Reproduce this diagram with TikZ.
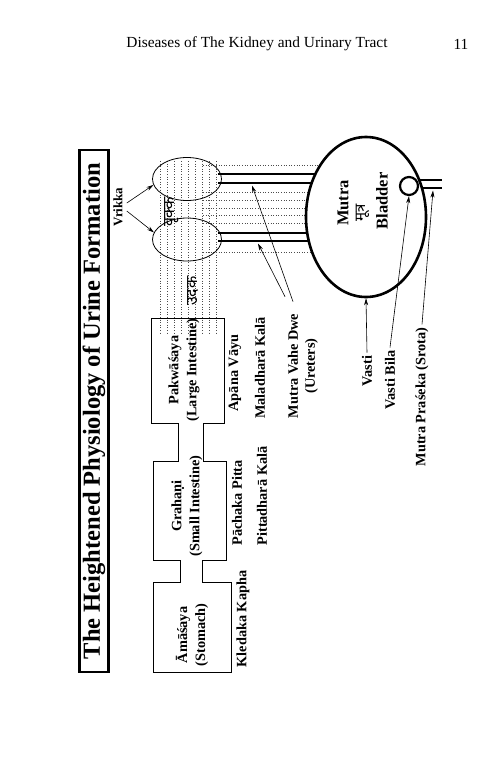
\documentclass[tikz,border=0pt]{standalone}
\usepackage{fontspec}
\setmainfont{Liberation Serif}
\newfontfamily\deva[Script=Devanagari]{Noto Sans}
\usetikzlibrary{arrows.meta,shapes.geometric,calc}
\begin{document}
\begin{tikzpicture}[x=1pt,y=-1pt,
  lab/.style={rotate=90,font=\fontsize{14.3}{17}\selectfont\bfseries,inner sep=0pt,align=center},
  inlab/.style={rotate=90,font=\fontsize{14.3}{18}\selectfont\bfseries,inner sep=0pt,align=center},
  devlab/.style={rotate=90,font=\deva\fontsize{16}{17}\selectfont\bfseries,inner sep=0pt},
  arr/.style={-{Stealth[length=7pt,width=4pt]},line width=0.6pt},
  organ/.style={draw,line width=1pt},
  tube/.style={line width=2.6pt},
  dots/.style={dotted,line width=0.6pt,black!70},
  kidney/.style={ellipse,draw,line width=0.8pt,minimum width=69pt,minimum height=43pt,inner sep=0pt},
]
\useasboundingbox (0,0) rectangle (500,772);
\fill[white] (0,0) rectangle (500,772);

% header
\node[font=\fontsize{15.4}{18}\selectfont,inner sep=0pt] (hdr) at (257,44) {Diseases of The Kidney and Urinary Tract};
\node[font=\fontsize{15.4}{18}\selectfont,inner sep=0pt] (pg) at (461,44) {11};

% title box
\node[draw,line width=2.2pt,rotate=90,minimum width=522pt,minimum height=29pt,inner sep=0pt,
      font=\fontsize{24.5}{28}\selectfont\bfseries] (title) at (94,411) {The Heightened Physiology of Urine Formation};

% dotted lines (vertical through kidneys, horizontal to bladder)
\foreach \x in {160,167,174,181,188,195,202,209,216}
  \draw[dots] (\x,161) -- (\x,335);
\foreach \y/\e in {165/320.4,192/309,200/307.4,208/306.4,215/306,223/306.2,252/312}
  \draw[dots] (203,\y) -- (\e,\y);

% digestive tract outline
\draw[organ] (151,318) -- (224,318) -- (224,423) -- (203,423) -- (203,461) -- (226,461)
  -- (226,560) -- (202,560) -- (202,582) -- (231,582) -- (231,672) -- (153,672)
  -- (153,582) -- (180,582) -- (180,560) -- (153,560) -- (153,461) -- (178,461)
  -- (178,423) -- (151,423) -- cycle;

\node[inlab] (pak) at (184,370) {Pakwāśaya\\(Large Intestine)};
\node[inlab] (gra) at (187,506) {Grahaṇi\\(Small Intestine)};
\node[inlab] (ama) at (192,635) {Āmāśaya\\(Stomach)};

% kidneys
\node[kidney] (kidU) at (187,179) {};
\node[kidney] (kidL) at (187,239.5) {};
\node[devlab] (vrkD) at (172,212) {वृक्क};
\node[devlab] (udaka) at (193,291) {उदक};

% bladder
\node[ellipse,draw,line width=2.6pt,minimum width=120pt,minimum height=160pt,inner sep=0pt] (bl) at (366,217) {};
\node[circle,draw,line width=2.2pt,minimum size=18pt,inner sep=0pt] (vb) at (409,186) {};
\node[rotate=90,font=\fontsize{16.5}{18}\selectfont\bfseries,inner sep=0pt] (mutraT) at (343,203) {Mutra};
\node[devlab,font=\deva\fontsize{15}{16}\selectfont\bfseries] (mutraD) at (363,213) {मूत्र};
\node[rotate=90,font=\fontsize{16.5}{18}\selectfont\bfseries,inner sep=0pt] (bladT) at (382,201) {Bladder};

% ureters and urethra
\draw[tube] (kidU.center) ++(31,-5) -- (316.3,174);
\draw[tube] (kidU.center) ++(31,4) -- (312.6,183);
\draw[tube] (kidL.center) ++(31,-6.5) -- (308.2,233);
\draw[tube] (kidL.center) ++(31,1.5) -- (309.7,241);
\draw[tube] (419.2,180) -- (442,180);
\draw[tube] (421.9,188) -- (442,188);

% labels
\node[lab,font=\fontsize{13}{14}\selectfont\bfseries] (vrikka) at (118,207) {Vrikka};
\node[lab] (kled) at (243,619) {Kledaka Kapha};
\node[lab] (pach) at (237,503) {Pāchaka Pitta};
\node[lab] (pitt) at (262,496) {Pittadharā Kalā};
\node[lab] (apana) at (235,373) {Apāna Vāyu};
\node[lab] (mala) at (260,368) {Maladharā Kalā};
\node[lab] (mvd) at (303,366) {Mutra Vahe Dwe\\(Ureters)};
\node[lab] (vasti) at (367,371) {Vasti};
\node[lab] (vbila) at (390,380) {Vasti Bila};
\node[lab] (mps) at (422,397) {Mutra Praśeka (Srota)};

% arrows
\coordinate (tipUU) at (252,185.5);
\coordinate (tipLU) at (258,243.5);
\coordinate (tipUr) at (433,190.5);
\draw[arr] ($(vrikka.south)+(4,-4)$) -- (kidU.190);
\draw[arr] ($(vrikka.south)+(4,4)$) -- (kidL.168);
\draw[arr] ($(mvd.east)+(-10,-12)$) -- (tipUU);
\draw[arr] ($(mvd.east)+(-18,-17)$) -- (tipLU);
\draw[arr] ($(vasti.east)+(0,-3)$) -- (bl.south);
\draw[arr] ($(vbila.east)+(0,-3)$) -- (vb.south);
\draw[arr] ($(mps.east)+(0,-3)$) -- (tipUr);
\end{tikzpicture}
\end{document}
